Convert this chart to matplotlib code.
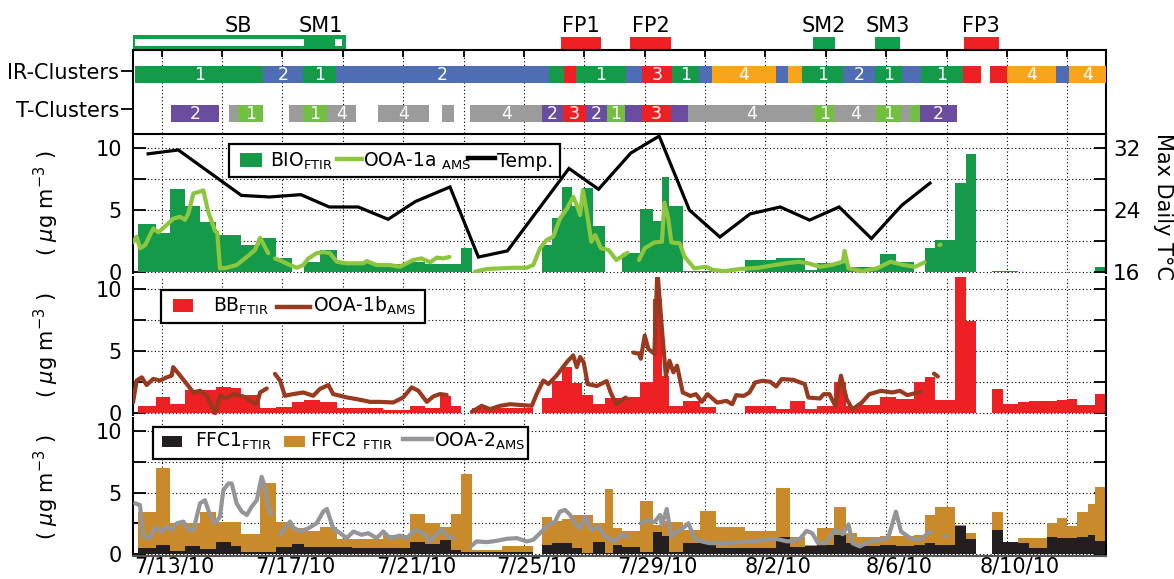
import numpy as np
import matplotlib
matplotlib.use('Agg')
import matplotlib.pyplot as plt
from matplotlib.patches import Rectangle
from matplotlib.lines import Line2D

plt.rcParams['font.family'] = ['DejaVu Sans']
plt.rcParams['mathtext.fontset'] = 'dejavusans'

# ---------------- data (x in days after 7/13/10 00:00) ----------------
tick_days = [0, 4, 8, 12, 16, 20, 24, 28]
tick_labels = ['7/13/10', '7/17/10', '7/21/10', '7/25/10', '7/29/10', '8/2/10', '8/6/10', '8/10/10']

# FTIR filter samples
ftir_start = [-0.78, -0.19, 0.26, 0.77, 1.27, 1.80, 2.30, 2.63, 3.27, 3.80, 4.30, 4.70, 5.24, 5.82, 6.30, 7.33,
              8.22, 8.72, 9.22, 9.58, 9.91, 10.28, 11.27, 12.60, 12.93, 13.26, 13.59, 13.92, 14.29, 14.68, 14.96,
              15.25, 15.86, 16.26, 16.57, 16.82, 17.27, 17.83, 18.36, 19.32, 20.35, 20.81, 21.32, 21.71, 22.27,
              22.67, 23.03, 23.79, 24.32, 24.92, 25.27, 25.63, 26.28, 26.64, 27.52, 27.87, 28.35, 28.73, 29.32,
              29.65, 29.99, 30.33, 30.67, 30.93]
ftir_end = [-0.19, 0.26, 0.77, 1.27, 1.80, 2.30, 2.63, 3.27, 3.80, 4.30, 4.70, 5.24, 5.82, 6.30, 7.33, 8.22,
            8.72, 9.22, 9.58, 9.91, 10.28, 11.27, 12.30, 12.93, 13.26, 13.59, 13.92, 14.29, 14.68, 14.96, 15.25,
            15.86, 16.26, 16.57, 16.82, 17.27, 17.83, 18.36, 19.32, 20.35, 20.81, 21.32, 21.71, 22.27, 22.67,
            23.03, 23.79, 24.32, 24.92, 25.27, 25.63, 26.28, 26.64, 26.97, 27.87, 28.35, 28.73, 29.32, 29.65,
            29.99, 30.33, 30.67, 30.93, 31.28]
nan = np.nan
bio_ftir = [3.86, 3.1, 6.7, 5.3, 4.05, 3.0, 3.0, 2.15, 2.76, 1.14, nan, 0.81, 1.76, 0.75, 0.7, 0.62,
            0.75, 0.6, 0.6, 0.6, 1.9, nan, nan, 2.16, 4.32, 6.9, 5.3, 6.76, 3.73, nan, nan,
            1.53, 5.05, 4.14, 7.7, 5.32, 0.08, 0.08, nan, 0.92, 1.08, 1.08, 0.1, 0.68, 0.68,
            0.4, 0.4, 1.43, 0.81, nan, 1.89, 2.57, 7.16, 9.54, 0.08, 0.08, nan, nan, nan,
            nan, nan, nan, nan, 0.4]
bb_ftir = [0.55, 1.3, 0.75, 1.85, 1.85, 2.1, 2.05, 1.5, 0.4, 0.5, 0.87, 1.1, 0.87, 0.46, 0.43, 0.27,
           0.6, 0.43, 1.36, 0.6, nan, 0.46, 0.46, 1.2, 2.6, 3.7, 2.45, 1.47, 0.73, 1.25, 1.25,
           1.3, 2.5, 9.2, 3.0, 0.6, 1.0, 0.5, nan, 0.6, 0.36, 0.95, 0.38, 0.6, 2.5,
           0.6, 0.65, 1.3, 1.15, 2.55, 2.9, 1.08, 11.5, 7.47, 1.94, 0.75, 0.89, 1.02, 1.02,
           1.08, 1.13, 0.67, 0.67, 1.53]
ffc1_ftir = [0.5, 0.7, 0.25, 0.68, 0.38, 0.97, 0.68, 0.2, 0.15, 0.6, 0.78, 0.55, 0.57, 0.57, 0.5, 0.5,
             0.95, 0.78, 1.15, 0.3, 0.2, 0.15, 0.2, 0.73, 0.87, 0.92, 0.46, 0.1, 1.0, 0.1, 0.7,
             0.6, 0.19, 1.82, 1.46, 0.19, 0.87, 1.08, 0.46, 0.51, 1.35, 0.54, 0.65, 0.73, 1.54,
             0.92, 0.62, 0.73, 0.65, 0.73, 0.87, 0.73, 2.28, 1.19, 1.95, 0.95, 0.87, 0.51, 1.35,
             1.27, 1.27, 1.41, 1.54, 1.08]
ffc2_ftir = [2.9, 6.3, 2.3, 1.82, 3.02, 1.63, 1.92, 1.42, 5.65, 2.0, 1.32, 1.29, 1.67, 0.67, 0.74, 1.07,
             2.35, 1.72, 1.05, 3.0, 6.3, 0.15, 0.45, 2.32, 1.83, 1.94, 2.74, 3.07, 1.5, 5.2, 1.4,
             1.24, 4.11, 0.54, 1.24, 2.41, 1.08, 2.42, 1.71, 1.34, 4.07, 0.87, 0.08, 1.41, 2.31,
             0.76, 0.78, 0.73, 0.81, 0.81, 2.3, 3.12, 0.08, 0.49, 1.44, 0.05, 0.4, 0.76, 1.2,
             1.63, 1.01, 1.98, 2.58, 4.39]

# Max daily temperature (deg C)
temp_day = [-0.45, 0.55, 2.64, 3.57, 4.61, 5.55, 6.51, 7.50, 8.40, 9.55, 10.49, 11.45, 13.49, 14.47, 15.54,
            16.48, 17.48, 18.49, 19.49, 20.49, 21.46, 22.44, 23.51, 24.51, 25.45]
temp_max = [31.3, 31.8, 25.9, 25.7, 26.0, 24.4, 24.4, 22.8, 25.1, 27.0, 17.9, 18.7, 29.4, 26.7, 31.4,
            33.6, 24.0, 20.5, 23.5, 24.4, 22.7, 24.4, 20.3, 24.6, 27.5]

# AMS OOA-1a
ooa1a_day = [-0.95, -0.83, -0.72, -0.55, -0.28, -0.11, 0.17, 0.38, 0.61, 0.77, 0.88, 1.05, 1.27, 1.38, 1.54,
             1.77, 1.84, 1.93, 2.15, 2.48, 2.82, 3.09, 3.26, 3.42, 3.53, nan,
             3.75, 3.97, 4.25, 4.47, 4.69, 4.86, 5.13, 5.35, 5.57, 5.80, 6.13, 6.68, 6.79, 7.12, 7.56, 7.89,
             8.33, 8.61, 8.89, 9.11, 9.33, 9.53, nan,
             10.38, 10.77, 11.21, 11.65, 12.09, 12.31, 12.53, 12.75, 12.97, 13.19, 13.42, 13.63, 13.75, 13.86,
             13.95, 14.08, 14.23, 14.36, 14.55, 14.80, 15.06, 15.31, 15.43, nan,
             15.81, 16.0, 16.32, 16.57, 16.65, 16.78, 16.88, 17.16, 17.32, 17.64, 18.02, 18.27, 18.65, 19.16,
             19.78, 20.29, 20.67, 21.11, 21.42, 21.81, 22.18, 22.56, 22.62, 22.75, 23.19, 23.69, 24.14, 24.58,
             24.96, 25.27, nan, 25.76, 25.80]
ooa1a_val = [2.38, 2.84, 1.9, 2.16, 3.5, 3.2, 3.8, 4.3, 4.46, 4.2, 4.7, 6.35, 6.5, 6.6, 4.86,
             3.3, 3.2, 0.27, 0.32, 0.54, 1.2, 1.76, 2.76, 2.0, 1.5, nan,
             1.08, 0.86, 0.54, 0.32, 0.54, 1.08, 1.5, 1.6, 1.5, 0.81, 0.68, 0.68, 0.86, 0.54, 0.54, 0.4,
             0.95, 1.08, 0.76, 1.14, 1.08, 1.2, nan,
             0.0, 0.22, 0.27, 0.32, 0.32, 0.54, 1.9, 2.57, 2.84, 4.3, 5.1, 6.08, 5.4, 4.6,
             6.6, 4.86, 2.43, 2.97, 1.9, 1.76, 0.95, 1.35, 1.54, nan,
             0.95, 1.9, 2.38, 2.43, 5.6, 4.32, 2.38, 2.3, 1.22, 0.27, 0.4, 0.14, 0.05, 0.22,
             0.32, 0.54, 0.68, 0.81, 0.68, 0.4, 0.54, 0.81, 1.68, 0.27, 0.05, 0.27, 0.81, 0.54,
             0.4, 0.76, nan, 2.16, 2.2]

# AMS OOA-1b
ooa1b_day = [-0.95, -0.83, -0.66, -0.50, -0.28, -0.06, 0.17, 0.33, 0.38, 0.61, 0.83, 1.05, 1.27, 1.49, 1.77,
             1.93, 2.15, 2.37, 2.70, 3.03, 3.15, 3.26, 3.48, nan,
             3.75, 3.92, 4.08, 4.36, 4.69, 5.02, 5.24, 5.52, 5.68, 6.13, 6.57, 6.90, 7.23, 7.67, 8.0, 8.28,
             8.50, 8.78, 9.0, 9.22, 9.44, nan,
             10.27, 10.60, 10.87, 11.21, 11.54, 11.98, 12.26, 12.42, 12.64, 12.81, 13.08, 13.42, 13.63, 13.75,
             13.86, 13.98, 14.11, 14.42, 14.74, 14.87, 15.06, 15.37, nan,
             15.62, 15.81, 15.87, 16.0, 16.12, 16.32, 16.42, 16.57, 16.70, 16.82, 16.95, 17.07, 17.26, 17.51,
             17.70, 17.89, 18.08, 18.40, 18.71, 18.90, 19.03, 19.28, 19.47, 19.66, 19.91, 20.16, 20.35, 20.54,
             20.92, 21.30, 21.42, 21.80, 21.93, 22.12, 22.31, 22.50, 22.69, 22.88, 23.19, 23.44, 23.82, 24.20,
             24.45, 24.70, 25.14, nan, 25.58, 25.71]
ooa1b_val = [0.87, 2.64, 2.9, 2.28, 2.77, 2.64, 2.9, 3.04, 3.72, 3.04, 2.36, 1.68, 1.82, 1.41, 0.0,
             1.41, 1.2, 1.55, 1.36, 0.87, 0.73, 1.68, 2.0, nan,
             3.18, 2.64, 1.41, 1.55, 1.68, 1.41, 1.96, 2.28, 1.55, 1.28, 1.09, 0.92, 0.92, 0.87, 1.28, 2.09,
             1.82, 0.92, 1.36, 1.55, 1.47, nan,
             0.11, 0.6, 0.33, 0.6, 0.73, 0.65, 0.6, 1.55, 2.64, 2.36, 3.04, 4.13, 4.67, 3.72,
             4.54, 4.1, 2.35, 2.2, 2.6, 1.68, 0.73, 1.27, nan,
             4.9, 4.8, 4.4, 6.27, 5.19, 4.8, 11.5, 6.8, 3.0, 4.24, 3.3, 3.84, 1.68, 1.4,
             1.54, 0.92, 1.54, 0.86, 1.0, 0.73, 1.46, 1.4, 1.68, 2.49, 2.62, 2.54, 2.16, 2.76,
             2.7, 2.35, 1.27, 1.19, 1.54, 1.54, 0.6, 3.03, 1.14, 0.32, 0.86, 1.54, 1.81, 1.68,
             1.81, 1.46, 1.73, nan, 3.2, 2.97]

# AMS OOA-2
ooa2_day = [-0.88, -0.72, -0.61, -0.39, -0.22, 0.0, 0.17, 0.33, 0.50, 0.72, 0.88, 1.05, 1.27, 1.43, 1.60,
            1.77, 1.93, 2.04, 2.21, 2.32, 2.48, 2.65, 2.82, 2.98, 3.15, 3.31, 3.42, 3.53, 3.64, nan,
            3.92, 4.08, 4.25, 4.36, 4.58, 4.86, 5.13, 5.35, 5.47, 5.68, 5.91, 6.13, 6.35, 6.62, 6.84, 7.12,
            7.34, 7.56, 7.89, 8.12, 8.39, 8.67, 8.89, 9.11, 9.27, 9.49, 9.66, nan,
            10.27, 10.43, 10.77, 11.10, 11.43, 11.76, 12.09, 12.31, 12.53, 12.81, 13.03, 13.19, 13.36, 13.53,
            13.69, 13.86, 14.03, 14.23, 14.48, 14.68, 14.99, 15.24, 15.43, nan,
            15.87, 16.12, 16.32, 16.51, 16.57, 16.73, 16.88, 17.07, 17.26, 17.45, 17.64, 17.89, 18.14, 18.65,
            19.15, 19.66, 20.04, 20.35, 20.73, 21.11, 21.36, 21.55, 21.74, 21.99, 22.31, 22.56, 22.75, 22.88,
            23.13, 23.44, 23.82, 24.07, 24.32, 24.49, 24.83, 25.10, 25.48, nan, 25.97, 26.01]
ooa2_val = [4.14, 4.0, 1.43, 1.3, 2.16, 1.84, 2.24, 1.97, 2.51, 2.65, 1.97, 1.97, 4.14, 4.4, 3.19,
            2.51, 3.05, 5.2, 5.76, 5.76, 4.14, 3.46, 3.19, 3.86, 4.4, 6.3, 5.49, 3.73, 3.24, nan,
            1.57, 2.1, 2.65, 2.16, 1.84, 2.1, 2.51, 3.46, 3.68, 2.1, 1.7, 1.3, 1.84, 1.57, 1.7, 1.3,
            1.84, 1.3, 1.51, 1.3, 1.97, 1.7, 1.03, 1.7, 1.97, 1.43, 1.3, nan,
            0.68, 1.03, 0.97, 1.08, 1.24, 1.3, 1.03, 1.16, 1.7, 2.38, 2.65, 3.46, 3.6, 3.19,
            2.51, 2.1, 3.05, 1.97, 2.24, 1.43, 1.03, 1.57, 1.43, nan,
            2.51, 2.78, 2.6, 3.19, 2.38, 3.68, 1.43, 1.84, 2.1, 2.51, 1.3, 1.03, 0.89, 0.89,
            0.97, 1.08, 1.16, 1.24, 1.03, 1.16, 1.89, 1.7, 0.89, 0.89, 1.97, 1.62, 2.43, 0.89,
            0.62, 1.03, 1.16, 1.35, 3.46, 1.84, 1.24, 1.16, 1.84, nan, 1.43, 1.45]

# IR / T cluster periods: start, end, cluster id, labelled?
ir_start = [-0.87, 3.37, 4.68, 5.77, 12.84, 13.31, 13.72, 15.37, 15.91, 16.92, 17.79, 18.22, 20.35, 20.73,
            21.20, 22.58, 23.63, 24.52, 25.14, 26.53, 27.44, 28.01, 29.62, 30.04]
ir_end = [3.37, 4.68, 5.77, 12.84, 13.31, 13.72, 15.37, 15.91, 16.92, 17.79, 18.22, 20.35, 20.73, 21.20,
          22.58, 23.63, 24.52, 25.14, 26.53, 27.14, 28.01, 29.62, 30.04, 31.28]
ir_cluster = [1, 2, 1, 2, 1, 3, 1, 2, 3, 1, 2, 4, 2, 4, 1, 2, 1, 2, 1, 3, 3, 4, 2, 4]
ir_labelled = [1, 1, 1, 1, 0, 0, 1, 0, 1, 1, 0, 1, 0, 0, 1, 1, 1, 0, 1, 0, 0, 1, 0, 1]

t_start = [0.32, 2.22, 2.54, 4.20, 4.68, 5.48, 7.17, 9.27, 10.21, 12.61, 13.28, 14.05, 14.74, 15.35, 15.91,
           16.88, 17.45, 21.61, 22.28, 23.67, 24.48, 24.78, 25.11]
t_end = [1.91, 2.54, 3.37, 4.68, 5.48, 6.43, 8.85, 9.68, 12.61, 13.28, 14.05, 14.74, 15.35, 15.91, 16.88,
         17.45, 21.61, 22.28, 23.67, 24.48, 24.78, 25.11, 26.34]
t_cluster = [2, 4, 1, 4, 1, 4, 4, 4, 4, 2, 3, 2, 1, 2, 3, 2, 4, 1, 4, 1, 4, 1, 2]
t_labelled = [1, 0, 1, 0, 1, 1, 1, 0, 1, 1, 1, 1, 1, 0, 1, 0, 1, 1, 1, 1, 0, 0, 1]

# field events
event_names = ['FP1', 'FP2', 'SM2', 'SM3', 'FP3']
event_start = [13.22, 15.52, 21.57, 23.64, 26.57]
event_end = [14.54, 16.86, 22.31, 24.47, 27.73]
event_kind = ['FP', 'FP', 'SM', 'SM', 'FP']
sb_period = (-0.95, 6.11)
sm1_period = (4.73, 5.73)

# ---------------- styling ----------------
C_BIO = '#159a4a'
C_OOA1A = '#8cc63f'
C_BB = '#ed2124'
C_OOA1B = '#983a1f'
C_FFC1 = '#231f20'
C_FFC2 = '#c98a2c'
C_OOA2 = '#949599'
IR_COLORS = {1: '#159a4a', 2: '#4f6db5', 3: '#ed2124', 4: '#f9a51c'}
T_COLORS = {1: '#72bf44', 2: '#6a4d9f', 3: '#ed2124', 4: '#9b9b9b'}
EV_COLORS = {'FP': '#ed2124', 'SM': '#0ea04b'}

W, H = 1174, 579
fig = plt.figure(figsize=(W / 100, H / 100), dpi=100)
fig.patch.set_facecolor('white')


def add_ax(l, t, r, b, **kw):
    return fig.add_axes([l / W, 1 - b / H, (r - l) / W, (b - t) / H], **kw)


def fx(x):
    return x / W


def fy(y):
    return 1 - y / H


XL = (-0.951, 31.28)
GRID = dict(color='black', linestyle=(0, (1, 2.2)), linewidth=0.8)
SPW = 1.5


def setup_panel(ax, ylim, top=False, bottom=False):
    ax.set_xlim(*XL)
    ax.set_ylim(*ylim)
    ax.set_axisbelow(True)
    ax.set_xticks(np.arange(0, 31, 2))
    ax.set_xticklabels([])
    ax.tick_params(axis='x', which='major', length=0)
    ax.set_yticks([0, 2.5, 5, 7.5, 10])
    ax.set_yticklabels(['0', '', '5', '', '10'])
    ax.tick_params(axis='y', direction='in', length=9, width=1.3, labelsize=15, pad=8,
                   right=True, left=True)
    ax.grid(True, which='major', **GRID)
    for s in ['left', 'right']:
        ax.spines[s].set_linewidth(SPW)
    ax.spines['top'].set_visible(top)
    ax.spines['top'].set_linewidth(SPW)
    ax.spines['bottom'].set_visible(bottom)
    ax.spines['bottom'].set_linewidth(SPW)
    ax.spines['bottom'].set_color('#555555')


def draw_bars(ax, vals, color, bottom=None, zorder=2):
    for i, (s, e, v) in enumerate(zip(ftir_start, ftir_end, vals)):
        if np.isnan(v):
            continue
        b = 0 if bottom is None else bottom[i]
        ax.bar(s, v, width=e - s, bottom=b, align='edge', color=color, linewidth=0, zorder=zorder)


# ---------------- event bars ----------------
axe = add_ax(133, 35, 1106, 50)
axe.set_xlim(*XL)
axe.set_ylim(0, 1)
axe.axis('off')
axe.add_patch(Rectangle((sb_period[0], 0), sb_period[1] - sb_period[0], 1, facecolor=EV_COLORS['SM'],
                        edgecolor='none', clip_on=False))
axe.add_patch(Rectangle((-0.871, 0.27), sm1_period[0] + 0.871, 0.44, facecolor='white', edgecolor='none',
                        clip_on=False))
axe.add_patch(Rectangle((sm1_period[1], 0.27), 0.25, 0.44, facecolor='white', edgecolor='none',
                        clip_on=False))
for nm, s, e, k in zip(event_names, event_start, event_end, event_kind):
    axe.add_patch(Rectangle((s, 0), e - s, 0.88, facecolor=EV_COLORS[k], edgecolor='none', clip_on=False))
    axe.text((s + e) / 2, 1.6, nm, ha='center', va='center', fontsize=15, transform=axe.transData,
             clip_on=False)
axe.text(2.53, 1.6, 'SB', ha='center', va='center', fontsize=15, clip_on=False)
axe.text((sm1_period[0] + sm1_period[1]) / 2 + 0.05, 1.6, 'SM1', ha='center', va='center', fontsize=15,
         clip_on=False)

# ---------------- cluster panel ----------------
axc = add_ax(133, 50, 1106, 133)
axc.set_xlim(*XL)
axc.set_ylim(83, 0)
axc.set_axisbelow(True)
axc.xaxis.tick_top()
axc.set_xticks(np.arange(0, 31, 2))
axc.set_xticklabels([])
axc.tick_params(axis='x', direction='in', length=5, width=1.3, top=True, bottom=False)
axc.grid(True, axis='x', **GRID)
axc.set_yticks([20.7, 59.3])
axc.set_yticklabels(['IR-Clusters', 'T-Clusters'])
axc.tick_params(axis='y', direction='out', length=9, width=1.3, labelsize=15, pad=1)
axc.spines['bottom'].set_visible(False)
for s in ['top', 'left', 'right']:
    axc.spines[s].set_linewidth(SPW)

for s, e, c, lab in zip(ir_start, ir_end, ir_cluster, ir_labelled):
    axc.broken_barh([(s, e - s)], (16, 16.7), facecolors=IR_COLORS[c], zorder=3)
    if lab:
        axc.text((s + e) / 2, 24.6, str(c), color='white', ha='center', va='center', fontsize=12.5, zorder=4)
for s, e, c, lab in zip(t_start, t_end, t_cluster, t_labelled):
    axc.broken_barh([(s, e - s)], (55, 17), facecolors=T_COLORS[c], zorder=3)
    if lab:
        axc.text((s + e) / 2, 63.6, str(c), color='white', ha='center', va='center', fontsize=12.5, zorder=4)

# ---------------- panel 1: BIO ----------------
ax1 = add_ax(133, 134, 1106, 273)
setup_panel(ax1, (-0.105, 11.17), top=True)
ax1.tick_params(axis='y', right=False)
draw_bars(ax1, bio_ftir, C_BIO)
ax1.plot(ooa1a_day, ooa1a_val, color=C_OOA1A, lw=3.0, solid_joinstyle='round', solid_capstyle='round',
         zorder=3)
ax1t = ax1.twinx()
ax1t.set_xlim(*XL)
ax1t.set_ylim(16 + 1.6 * -0.105, 16 + 1.6 * 11.17)
ax1t.set_yticks([16, 20, 24, 28, 32])
ax1t.set_yticklabels(['16', '', '24', '', '32'])
ax1t.tick_params(axis='y', direction='in', length=9, width=1.3, labelsize=15.5, pad=5)
for s in ax1t.spines.values():
    s.set_visible(False)
ax1t.spines['right'].set_visible(True)
ax1t.spines['right'].set_linewidth(SPW)
ax1t.plot(temp_day, temp_max, color='black', lw=2.3, solid_joinstyle='miter', zorder=4)

# ---------------- panel 2: BB ----------------
ax2 = add_ax(133, 276.7, 1106, 414.5)
setup_panel(ax2, (-0.1, 11.02))
draw_bars(ax2, bb_ftir, C_BB)
ax2.plot(ooa1b_day, ooa1b_val, color=C_OOA1B, lw=3.0, solid_joinstyle='round', solid_capstyle='round',
         zorder=3)

# ---------------- panel 3: FFC ----------------
ax3 = add_ax(133, 418, 1106, 556)
setup_panel(ax3, (-0.16, 11.1), bottom=True)
draw_bars(ax3, ffc1_ftir, C_FFC1)
draw_bars(ax3, ffc2_ftir, C_FFC2, bottom=ffc1_ftir)
ax3.plot(ooa2_day, ooa2_val, color=C_OOA2, lw=3.0, solid_joinstyle='round', solid_capstyle='round',
         zorder=3)
ax3.set_xticks([d + 0.42 for d in tick_days], minor=True)
ax3.set_xticklabels(tick_labels, minor=True)
ax3.tick_params(axis='x', which='minor', length=0, labelsize=15, pad=0.3)

# ---------------- axis labels ----------------
ylab = r'( $\mu$g m$^{-3}$ )'
for yc in [203.5, 345.6, 487.0]:
    fig.text(fx(46), fy(yc), ylab, rotation=90, ha='center', va='center', fontsize=15)
fig.text(fx(1163), fy(206), 'Max Daily T\u00b0C', rotation=270, ha='center', va='center', fontsize=15)


# ---------------- legends (drawn by hand) ----------------
def leg_box(x0, y0, x1, y1):
    fig.patches.append(Rectangle((fx(x0), fy(y1)), fx(x1 - x0), (y1 - y0) / H, transform=fig.transFigure,
                                 facecolor='white', edgecolor='black', linewidth=1.6, zorder=10))


def leg_sq(x0, y0, x1, y1, color):
    fig.patches.append(Rectangle((fx(x0), fy(y1)), fx(x1 - x0), (y1 - y0) / H, transform=fig.transFigure,
                                 facecolor=color, edgecolor='none', zorder=11))


def leg_line(x0, x1, y, color, lw):
    fig.lines.append(Line2D([fx(x0), fx(x1)], [fy(y), fy(y)], transform=fig.transFigure, color=color,
                            lw=lw, zorder=11))


def leg_text(x, y, s):
    fig.text(fx(x), fy(y), s, ha='left', va='baseline', fontsize=13.5, zorder=12)


sub = lambda s: r'$_{\mathregular{' + s + '}}$'

leg_box(229.3, 144.3, 560, 177.3)
leg_sq(240, 153.3, 261.7, 166.7, C_BIO)
leg_text(270, 166.7, 'BIO' + sub('FTIR'))
leg_line(336.7, 361.7, 159.3, C_OOA1A, 3.2)
leg_text(363.3, 166.7, 'OOA-1a ' + sub('AMS'))
leg_line(468.3, 495, 158.3, 'black', 3.2)
leg_text(496.7, 166.7, 'Temp.')

leg_box(160.7, 290, 425, 322.7)
leg_sq(172.7, 299.3, 193.3, 311.7, C_BB)
leg_text(212.7, 311.7, 'BB' + sub('FTIR'))
leg_line(276.7, 310, 306.7, C_OOA1B, 3.2)
leg_text(313.3, 311.7, 'OOA-1b' + sub('AMS'))

leg_box(153.3, 426.7, 528.3, 459.3)
leg_sq(161.7, 436, 181.7, 446.7, C_FFC1)
leg_text(195, 446.7, 'FFC1' + sub('FTIR'))
leg_sq(284, 436, 305, 446.7, C_FFC2)
leg_text(310, 446.7, 'FFC2 ' + sub('FTIR'))
leg_line(403.3, 431.7, 439.3, C_OOA2, 3.2)
leg_text(434.3, 446.7, 'OOA-2' + sub('AMS'))

fig.savefig('out.png', dpi=100, facecolor='white')
